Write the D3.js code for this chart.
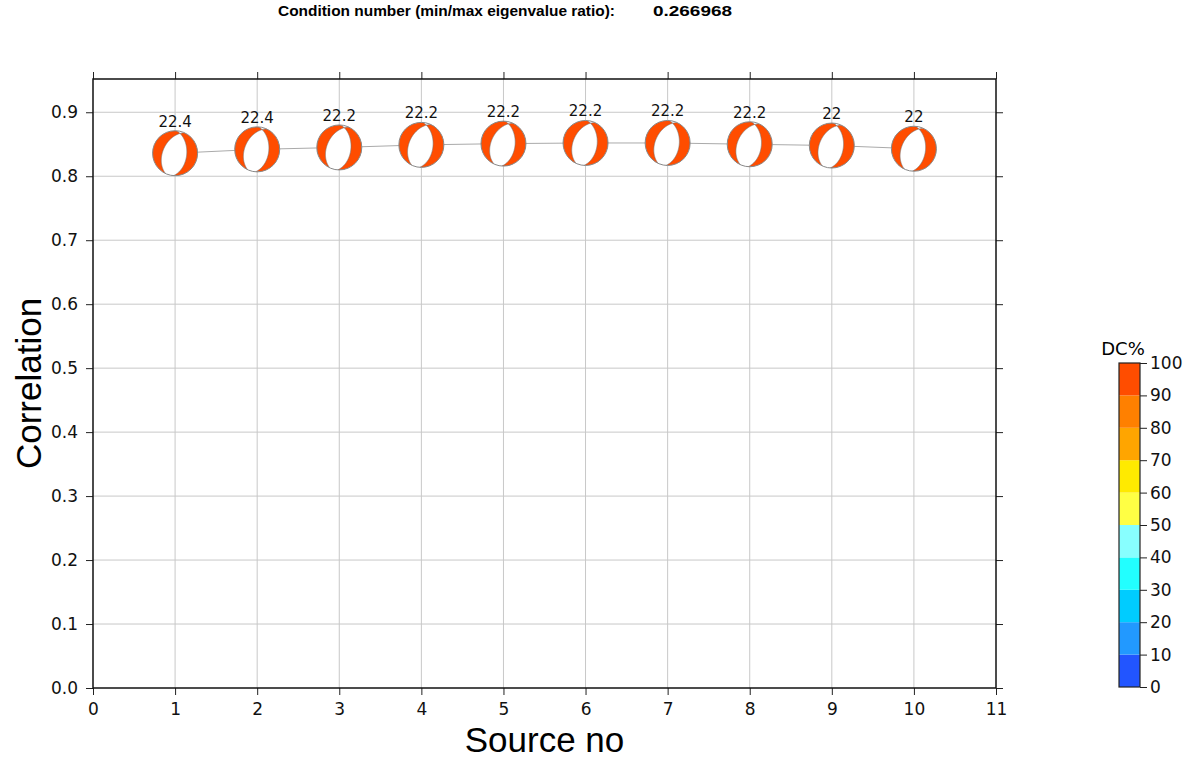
<!DOCTYPE html>
<meta charset="utf-8">
<style>
  body { margin: 0; background: #fff; font-family: "Liberation Sans", Arial, sans-serif; }
  .grid line { stroke: #c8c8c8; stroke-width: 1; }
  .axis text { font-family: "DejaVu Sans", sans-serif; font-size: 17px; fill: #111; }
  .axis path, .axis line { stroke: #222; }
</style>
<body>
<script src="https://d3js.org/d3.v7.min.js"></script>
<script>
// ---- data ----
var sources = [1, 2, 3, 4, 5, 6, 7, 8, 9, 10];
var correlation = [0.836, 0.842, 0.845, 0.849, 0.851, 0.852, 0.852, 0.850, 0.848, 0.843];
var depthLabels = ["22.4", "22.4", "22.2", "22.2", "22.2", "22.2", "22.2", "22.2", "22", "22"];
var strike = [205, 205, 205, 205, 205, 205, 205, 205, 205, 205];
var dip = [45, 45, 45, 45, 45, 45, 45, 45, 45, 45];
var rake = [-75, -75, -75, -75, -75, -75, -75, -75, -75, -75];
var dcPercent = [95, 95, 95, 95, 95, 95, 95, 95, 95, 95];
var xTicks = [0, 1, 2, 3, 4, 5, 6, 7, 8, 9, 10, 11];
var yTicks = [0, 0.1, 0.2, 0.3, 0.4, 0.5, 0.6, 0.7, 0.8, 0.9];
var dcSteps = [0, 10, 20, 30, 40, 50, 60, 70, 80, 90, 100];
var dcColors = ["#2255ff", "#2299ff", "#00ccff", "#22ffff", "#88ffff",
                "#ffff44", "#ffea00", "#ffa500", "#ff8000", "#ff4d00"];
var conditionNumber = "0.266968";

var width = 1189, height = 759;
var plotL = 93, plotR = 996, plotT = 79, plotB = 688;
var ballR = 22.5;

var svg = d3.select("body").append("svg")
  .attr("width", width)
  .attr("height", height);

var x = d3.scaleLinear().domain([0, 11]).range([plotL, plotR]);
var y = d3.scaleLinear().domain([0, 0.952]).range([plotB, plotT]);

// grid
var grid = svg.append("g").attr("class", "grid");
grid.selectAll(".gx").data(xTicks.slice(1, -1)).join("line")
  .attr("x1", d => x(d)).attr("x2", d => x(d))
  .attr("y1", plotT).attr("y2", plotB);
grid.selectAll(".gy").data(yTicks.slice(1)).join("line")
  .attr("x1", plotL).attr("x2", plotR)
  .attr("y1", d => y(d)).attr("y2", d => y(d));

// axes on four sides, ticks pointing out
var fmt = d3.format(".1f");
svg.append("g").attr("class", "axis")
  .attr("transform", "translate(0," + plotB + ")")
  .call(d3.axisBottom(x).tickValues(xTicks).tickSize(7).tickPadding(8).tickFormat(d3.format("d")));
svg.append("g").attr("class", "axis")
  .attr("transform", "translate(0," + plotT + ")")
  .call(d3.axisTop(x).tickValues(xTicks).tickSize(7).tickFormat(""));
svg.append("g").attr("class", "axis")
  .attr("transform", "translate(" + plotL + ",0)")
  .call(d3.axisLeft(y).tickValues(yTicks).tickSize(7).tickPadding(8).tickFormat(fmt));
svg.append("g").attr("class", "axis")
  .attr("transform", "translate(" + plotR + ",0)")
  .call(d3.axisRight(y).tickValues(yTicks).tickSize(7).tickFormat(""));
svg.selectAll(".axis .domain").remove();
svg.append("rect")
  .attr("x", plotL).attr("y", plotT)
  .attr("width", plotR - plotL).attr("height", plotB - plotT)
  .attr("fill", "none").attr("stroke", "#111").attr("stroke-width", 1.5);

// axis titles
svg.append("text")
  .attr("x", (plotL + plotR) / 2).attr("y", 752)
  .attr("text-anchor", "middle")
  .style("font-size", "35px")
  .text("Source no");
svg.append("text")
  .attr("transform", "translate(41," + (plotT + plotB) / 2 + ") rotate(-90)")
  .attr("text-anchor", "middle")
  .style("font-size", "35px")
  .text("Correlation");

// title
svg.append("text")
  .attr("x", 278).attr("y", 16)
  .attr("textLength", 337).attr("lengthAdjust", "spacingAndGlyphs")
  .style("font-size", "15px").style("font-weight", "bold")
  .text("Condition number (min/max eigenvalue ratio):");
svg.append("text")
  .attr("x", 653).attr("y", 16)
  .attr("textLength", 79).attr("lengthAdjust", "spacingAndGlyphs")
  .style("font-size", "15px").style("font-weight", "bold")
  .text(conditionNumber);

// connecting line
var pts = sources.map((s, i) => [x(s), y(correlation[i])]);
svg.append("path")
  .attr("d", d3.line()(pts))
  .attr("fill", "none").attr("stroke", "#aaa").attr("stroke-width", 1);

// beachballs (lower hemisphere, equal area) via d3.contours of P radiation
var rad = Math.PI / 180;
var m = 90;
function radiation(s, dp, rk) {
  var f = s * rad, d = dp * rad, l = rk * rad;
  var n = [-Math.sin(d) * Math.sin(f), Math.sin(d) * Math.cos(f), -Math.cos(d)];
  var u = [Math.cos(l) * Math.cos(f) + Math.sin(l) * Math.cos(d) * Math.sin(f),
           Math.cos(l) * Math.sin(f) - Math.sin(l) * Math.cos(d) * Math.cos(f),
           -Math.sin(l) * Math.sin(d)];
  var vals = new Array(m * m);
  for (var j = 0; j < m; j++) {
    for (var i = 0; i < m; i++) {
      var px = ((i + 0.5) / m) * 2 - 1;          // east
      var py = 1 - ((j + 0.5) / m) * 2;          // north
      var r = Math.min(Math.sqrt(px * px + py * py), 1);
      var inc = 2 * Math.asin(r / Math.SQRT2);
      var az = Math.atan2(px, py);
      var v = [Math.sin(inc) * Math.cos(az), Math.sin(inc) * Math.sin(az), Math.cos(inc)];
      var a = n[0] * v[0] + n[1] * v[1] + n[2] * v[2];
      var b = u[0] * v[0] + u[1] * v[1] + u[2] * v[2];
      vals[j * m + i] = a * b;
    }
  }
  return d3.contours().size([m, m]).thresholds([0])(vals)[0];
}

var defs = svg.append("defs");
var balls = svg.append("g");
function drawBall(cx, cyy, R, i, id, col) {
  defs.append("clipPath").attr("id", id)
    .append("circle").attr("cx", cx).attr("cy", cyy).attr("r", R);
  var g = balls.append("g");
  g.append("circle").attr("cx", cx).attr("cy", cyy).attr("r", R).attr("fill", "#fff");
  var proj = d3.geoIdentity().scale(2 * R / m).translate([cx - R, cyy - R]);
  g.append("path")
    .attr("clip-path", "url(#" + id + ")")
    .attr("d", d3.geoPath(proj)(radiation(strike[i], dip[i], rake[i])))
    .attr("fill", col).attr("stroke", "#777").attr("stroke-width", 0.6);
  g.append("circle").attr("cx", cx).attr("cy", cyy).attr("r", R)
    .attr("fill", "none").attr("stroke", "#888").attr("stroke-width", 1);
  return g;
}
sources.forEach(function(s, i) {
  var cx = x(s), cyy = y(correlation[i]);
  var col = dcColors[Math.min(9, Math.floor(dcPercent[i] / 10))];
  var g = drawBall(cx, cyy, ballR, i, "clip" + i, col);
  g.append("text")
    .attr("x", cx).attr("y", cyy - ballR - 4)
    .attr("text-anchor", "middle")
    .style("font-family", "DejaVu Sans, sans-serif")
    .style("font-size", "15px").attr("fill", "#111")
    .text(depthLabels[i]);
});

// DC% colour bar
var cbX = 1119, cbW = 21;
var cbY = d3.scaleLinear().domain([0, 100]).range([687, 363]);
var cb = svg.append("g");
cb.selectAll("rect").data(dcColors).join("rect")
  .attr("x", cbX).attr("width", cbW)
  .attr("y", (d, i) => cbY(dcSteps[i + 1]))
  .attr("height", (d, i) => cbY(dcSteps[i]) - cbY(dcSteps[i + 1]))
  .attr("fill", d => d);
cb.append("rect")
  .attr("x", cbX).attr("y", cbY(100)).attr("width", cbW).attr("height", cbY(0) - cbY(100))
  .attr("fill", "none").attr("stroke", "#222").attr("stroke-width", 1.2);
svg.append("g").attr("class", "axis")
  .attr("transform", "translate(" + (cbX + cbW) + ",0)")
  .call(d3.axisRight(cbY).tickValues(dcSteps).tickSize(7).tickPadding(3))
  .call(g => g.select(".domain").remove());
svg.append("text")
  .attr("x", cbX + 4).attr("y", 355)
  .attr("text-anchor", "middle")
  .style("font-family", "DejaVu Sans, sans-serif")
  .style("font-size", "18px")
  .text("DC%");
</script>
</body>
